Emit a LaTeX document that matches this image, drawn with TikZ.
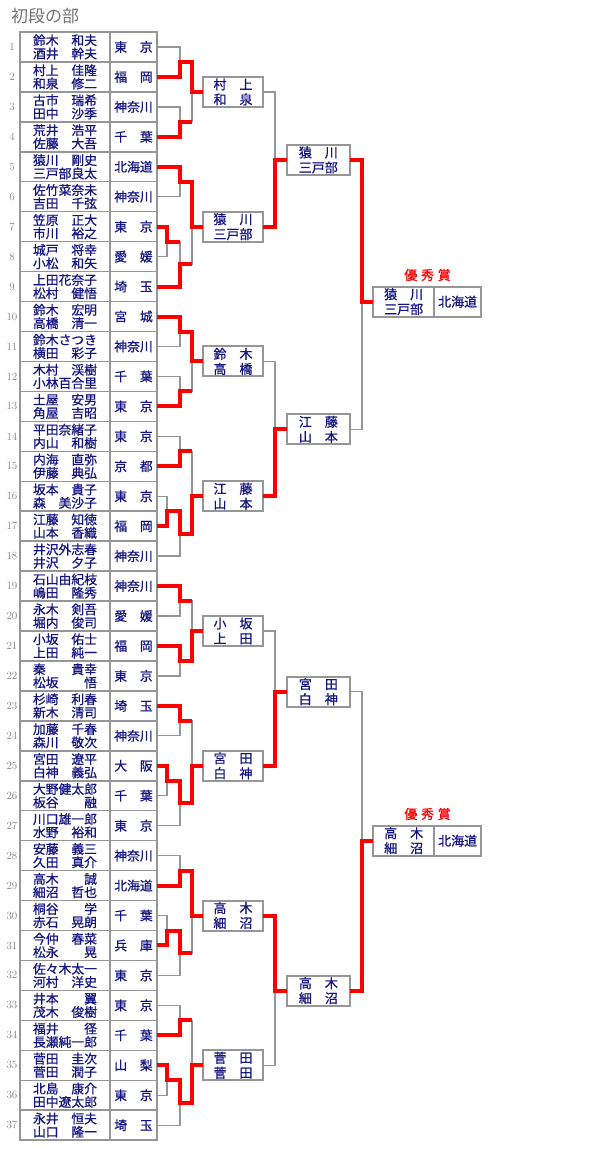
\documentclass[tikz,border=0pt]{standalone}
\usepackage{fontspec}
\newfontfamily\jp{Noto Sans CJK JP}
\newfontfamily\jpb[FakeBold=0.8]{Noto Sans CJK JP}
\definecolor{navy}{RGB}{20,20,130}
\definecolor{lgray}{RGB}{150,150,150}
\tikzset{
  cellbox/.style={draw=lgray, line width=1.5pt, inner sep=0pt, outer sep=0pt, minimum height=29.95pt, text=navy, align=center},
  namecell/.style={cellbox, minimum width=90pt, font=\jpb\fontsize{12.8}{13.3}\selectfont},
  prefcell/.style={cellbox, minimum width=47pt, font=\jpb\fontsize{12.8}{13.3}\selectfont},
  numtxt/.style={text=black!50, font=\fontsize{11}{11}\selectfont, inner sep=0pt},
  rbox/.style={draw=lgray, fill=white, line width=2pt, inner sep=0pt, outer sep=0pt, minimum height=30pt, text=navy, align=center, font=\jpb\fontsize{13}{15}\selectfont},
  lose/.style={draw=lgray, line width=1.3pt},
  win/.style={draw=red, line width=4pt},
  prize/.style={text=red, font=\jpb\fontsize{13}{13}\selectfont, inner sep=0pt},
  titletxt/.style={text=black!55, font=\jp\fontsize{17}{17}\selectfont, inner sep=0pt, anchor=west}
}
\begin{document}
\begin{tikzpicture}[x=1pt,y=-1pt]
\path[use as bounding box] (0,0) rectangle (600,1150);
\node[titletxt] (title) at (11,16.5) {初段の部};
\foreach \k/\na/\nb/\pr in {
1/鈴木　和夫/酒井　幹夫/東　京,
2/村上　佳隆/和泉　修二/福　岡,
3/古市　瑞希/田中　沙季/神奈川,
4/荒井　浩平/佐藤　大吾/千　葉,
5/猿川　剛史/三戸部良太/北海道,
6/佐竹菜奈未/吉田　千弦/神奈川,
7/笠原　正大/市川　裕之/東　京,
8/城戸　将幸/小松　和矢/愛　媛,
9/上田花奈子/松村　健悟/埼　玉,
10/鈴木　宏明/高橋　清一/宮　城,
11/鈴木さつき/横田　彩子/神奈川,
12/木村　渓樹/小林百合里/千　葉,
13/土屋　安男/角屋　吉昭/東　京,
14/平田奈緒子/内山　和樹/東　京,
15/内海　直弥/伊藤　典弘/京　都,
16/坂本　貴子/森　美沙子/東　京,
17/江藤　知徳/山本　香織/福　岡,
18/井沢外志春/井沢　夕子/神奈川,
19/石山由紀枝/嶋田　隆秀/神奈川,
20/永木　剣吾/堀内　俊司/愛　媛,
21/小坂　佑士/上田　純一/福　岡,
22/秦　　貴幸/松坂　　悟/東　京,
23/杉崎　利春/新木　清司/埼　玉,
24/加藤　千春/森川　敬次/神奈川,
25/宮田　遼平/白神　義弘/大　阪,
26/大野健太郎/板谷　　融/千　葉,
27/川口雄一郎/水野　裕和/東　京,
28/安藤　義三/久田　真介/神奈川,
29/高木　　誠/細沼　哲也/北海道,
30/桐谷　　学/赤石　晃朗/千　葉,
31/今仲　春菜/松永　　晃/兵　庫,
32/佐々木太一/河村　洋史/東　京,
33/井本　　翼/茂木　俊樹/東　京,
34/福井　　径/長瀬純一郎/千　葉,
35/菅田　圭次/菅田　潤子/山　梨,
36/北島　康介/田中遼太郎/東　京,
37/永井　恒夫/山口　隆一/埼　玉}{
  \node[namecell] (n\k) at (65,{17.025+29.95*\k}) {\na\\\nb};
  \node[prefcell] (p\k) at (133.5,{17.025+29.95*\k}) {\pr};
  \node[numtxt] (num\k) at (12,{17.025+29.95*\k}) {\k};
}
% junctions, round 1
\coordinate (A1) at (180,61.95);  \coordinate (A2) at (180,121.85); \coordinate (JA) at (192,91.9);
\coordinate (B1) at (180,181.75); \coordinate (B2) at (167,241.65); \coordinate (B3) at (180,264.11); \coordinate (JB) at (192,226.675);
\coordinate (C1) at (180,331.5);  \coordinate (C2) at (180,391.4);  \coordinate (JC) at (192,361.45);
\coordinate (D1) at (180,451.3);  \coordinate (D2) at (167,511.2);  \coordinate (D3) at (180,533.66); \coordinate (JD) at (192,496.225);
\coordinate (E1) at (180,601.05); \coordinate (E2) at (180,660.95); \coordinate (JE) at (192,631);
\coordinate (F1) at (180,720.85); \coordinate (F2) at (167,780.75); \coordinate (F3) at (180,803.21); \coordinate (JF) at (192,765.775);
\coordinate (G1) at (180,870.6);  \coordinate (G2) at (167,930.5);  \coordinate (G3) at (180,952.96); \coordinate (JG) at (192,915.525);
\coordinate (H1) at (180,1020.35); \coordinate (H2) at (167,1080.25); \coordinate (H3) at (180,1102.71); \coordinate (JH) at (192,1065.275);
\coordinate (K1) at (275,160); \coordinate (K2) at (275,429.3); \coordinate (K3) at (275,691.7); \coordinate (K4) at (275,990.7);
\coordinate (Z1) at (362,301.7); \coordinate (Z2) at (362,840.7);
% boxes
\node[rbox, minimum width=60.6pt] (w1) at (233,91.9) {村　上\\和　泉};
\node[rbox, minimum width=60.6pt] (w2) at (233,226.675) {猿　川\\三戸部};
\node[rbox, minimum width=60.6pt] (w3) at (233,361.45) {鈴　木\\高　橋};
\node[rbox, minimum width=60.6pt] (w4) at (233,496.225) {江　藤\\山　本};
\node[rbox, minimum width=60.6pt] (w5) at (233,631) {小　坂\\上　田};
\node[rbox, minimum width=60.6pt] (w6) at (233,765.775) {宮　田\\白　神};
\node[rbox, minimum width=60.6pt] (w7) at (233,915.525) {高　木\\細　沼};
\node[rbox, minimum width=60.6pt] (w8) at (233,1065.275) {菅　田\\菅　田};
\node[rbox, minimum width=63.3pt] (s1) at (318.35,160) {猿　川\\三戸部};
\node[rbox, minimum width=63.3pt] (s2) at (318.35,429.3) {江　藤\\山　本};
\node[rbox, minimum width=63.3pt] (s3) at (318.35,691.7) {宮　田\\白　神};
\node[rbox, minimum width=63.3pt] (s4) at (318.35,990.7) {高　木\\細　沼};
\node[rbox, minimum width=61.3pt] (f1n) at (403.65,301.7) {猿　川\\三戸部};
\node[rbox, minimum width=46.7pt] (f1p) at (457.65,301.7) {北海道};
\node[rbox, minimum width=61.3pt] (f2n) at (403.65,840.7) {高　木\\細　沼};
\node[rbox, minimum width=46.7pt] (f2p) at (457.65,840.7) {北海道};
\node[prize] (pz1) at (427.5,275) {優\hspace{3.7pt}秀\hspace{3.7pt}賞};
\node[prize] (pz2) at (427.5,814) {優\hspace{3.7pt}秀\hspace{3.7pt}賞};
% gray skeleton
\draw[lose] (p1.east) -| (A1) |- (p2.east);
\draw[lose] (p3.east) -| (A2) |- (p4.east);
\draw[lose] (A1) -| (JA) |- (A2);
\draw[lose] (JA) -- (w1.west);
\draw[lose] (p5.east) -| (B1) |- (p6.east);
\draw[lose] (p7.east) -| (B2) |- (p8.east);
\draw[lose] (B2) -| (B3) |- (p9.east);
\draw[lose] (B1) -| (JB) |- (B3);
\draw[lose] (JB) -- (w2.west);
\draw[lose] (p10.east) -| (C1) |- (p11.east);
\draw[lose] (p12.east) -| (C2) |- (p13.east);
\draw[lose] (C1) -| (JC) |- (C2);
\draw[lose] (JC) -- (w3.west);
\draw[lose] (p14.east) -| (D1) |- (p15.east);
\draw[lose] (p16.east) -| (D2) |- (p17.east);
\draw[lose] (D2) -| (D3) |- (p18.east);
\draw[lose] (D1) -| (JD) |- (D3);
\draw[lose] (JD) -- (w4.west);
\draw[lose] (p19.east) -| (E1) |- (p20.east);
\draw[lose] (p21.east) -| (E2) |- (p22.east);
\draw[lose] (E1) -| (JE) |- (E2);
\draw[lose] (JE) -- (w5.west);
\draw[lose] (p23.east) -| (F1) |- (p24.east);
\draw[lose] (p25.east) -| (F2) |- (p26.east);
\draw[lose] (F2) -| (F3) |- (p27.east);
\draw[lose] (F1) -| (JF) |- (F3);
\draw[lose] (JF) -- (w6.west);
\draw[lose] (p28.east) -| (G1) |- (p29.east);
\draw[lose] (p30.east) -| (G2) |- (p31.east);
\draw[lose] (G2) -| (G3) |- (p32.east);
\draw[lose] (G1) -| (JG) |- (G3);
\draw[lose] (JG) -- (w7.west);
\draw[lose] (p33.east) -| (H1) |- (p34.east);
\draw[lose] (p35.east) -| (H2) |- (p36.east);
\draw[lose] (H2) -| (H3) |- (p37.east);
\draw[lose] (H1) -| (JH) |- (H3);
\draw[lose] (JH) -- (w8.west);
\draw[lose] (w1.east) -| (K1) |- (w2.east);
\draw[lose] (w3.east) -| (K2) |- (w4.east);
\draw[lose] (w5.east) -| (K3) |- (w6.east);
\draw[lose] (w7.east) -| (K4) |- (w8.east);
\draw[lose] (K1) -- (s1.west);
\draw[lose] (K2) -- (s2.west);
\draw[lose] (K3) -- (s3.west);
\draw[lose] (K4) -- (s4.west);
\draw[lose] (s1.east) -| (Z1) |- (s2.east);
\draw[lose] (s3.east) -| (Z2) |- (s4.east);
\draw[lose] (Z1) -- (f1n.west);
\draw[lose] (Z2) -- (f2n.west);
% winners
\draw[win] (p2.east) -| (A1) -| (JA) -- (w1.west);
\draw[win] (p4.east) -| (A2) -- (A2 -| JA);
\draw[win] (p5.east) -| (B1) -| (JB) -- (w2.west);
\draw[win] (p7.east) -| (B2) -- (B2 -| B3);
\draw[win] (p9.east) -| (B3) -- (B3 -| JB);
\draw[win] (p10.east) -| (C1) -| (JC) -- (w3.west);
\draw[win] (p13.east) -| (C2) -- (C2 -| JC);
\draw[win] (p15.east) -| (D1) -- (D1 -| JD);
\draw[win] (p17.east) -| (D2) -| (D3) -| (JD) -- (w4.west);
\draw[win] (p19.east) -| (E1) -- (E1 -| JE);
\draw[win] (p21.east) -| (E2) -| (JE) -- (w5.west);
\draw[win] (p23.east) -| (F1) -- (F1 -| JF);
\draw[win] (p25.east) -| (F2) -| (F3) -| (JF) -- (w6.west);
\draw[win] (p29.east) -| (G1) -| (JG) -- (w7.west);
\draw[win] (p31.east) -| (G2) -| (G3) -- (G3 -| JG);
\draw[win] (p34.east) -| (H1) -- (H1 -| JH);
\draw[win] (p35.east) -| (H2) -| (H3) -| (JH) -- (w8.west);
\draw[win] (w2.east) -| (K1) -- (s1.west);
\draw[win] (w4.east) -| (K2) -- (s2.west);
\draw[win] (w6.east) -| (K3) -- (s3.west);
\draw[win] (w7.east) -| (K4) -- (s4.west);
\draw[win] (s1.east) -| (Z1) -- (f1n.west);
\draw[win] (s4.east) -| (Z2) -- (f2n.west);
\end{tikzpicture}
\end{document}
